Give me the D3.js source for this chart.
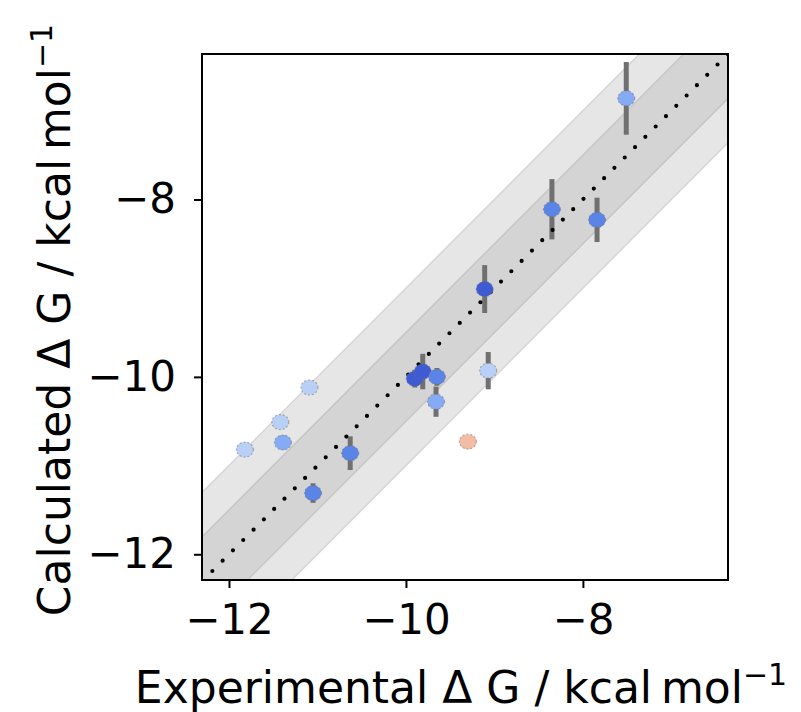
<!DOCTYPE html>
<meta charset="utf-8">
<style>
body { margin: 0; background: #fff; }
text { font-family: "DejaVu Sans", sans-serif; fill: #000; }
</style>
<body>
<script src="https://d3js.org/d3.v7.min.js"></script>
<script>
// experimental vs calculated binding free energies, kcal/mol
var expDG   = [-7.51, -8.35, -7.84, -9.11, -9.90, -9.81, -9.65, -9.66, -9.07, -9.30, -10.63, -11.05, -11.09, -11.42, -11.39, -11.82];
var calcDG  = [-6.86, -8.11, -8.23, -9.01, -10.02, -9.94, -10.00, -10.28, -9.93, -10.73, -10.86, -11.31, -10.12, -10.51, -10.74, -10.82];
var calcErr = [0.41, 0.34, 0.25, 0.27, 0.10, 0.20, 0.10, 0.17, 0.21, 0, 0.19, 0.11, 0, 0, 0.08, 0];
// colour group of each point (dark blue ... salmon)
var shade = [2, 1, 1, 0, 0, 0, 1, 2, 3, 4, 1, 1, 3, 3, 2, 3];
var shadeColors = ["#3f5bd3", "#5b84e8", "#86abf6", "#b9d0f6", "#f2bda4"];
var tickVals = [-12, -10, -8];
var bandWidths = [1, 0.5];   // +/- kcal/mol around y = x

var margin = {top: 54, left: 202},
    width = 526,
    height = 526;

var svg = d3.select("body").append("svg")
    .attr("width", 801)
    .attr("height", 712);

var g = svg.append("g")
    .attr("transform", "translate(" + margin.left + "," + margin.top + ")");

var x = d3.scaleLinear().domain([-12.305, -6.36]).range([0, width]);
var y = d3.scaleLinear().domain([-12.29, -6.36]).range([height, 0]);

g.append("clipPath").attr("id", "clip")
  .append("rect").attr("width", width).attr("height", height);

var plot = g.append("g").attr("clip-path", "url(#clip)");

// shaded bands
var span = [-13.5, -5.5];
var bandFill = ["#e6e6e6", "#d4d4d4"];
var bandEdge = ["#d6d6d6", "#c6c6c6"];
bandWidths.forEach(function(b, i) {
  var area = d3.area()
      .x(function(d) { return x(d); })
      .y0(function(d) { return y(d - b); })
      .y1(function(d) { return y(d + b); });
  plot.append("path")
      .datum(span)
      .attr("d", area)
      .attr("fill", bandFill[i])
      .attr("stroke", bandEdge[i])
      .attr("stroke-width", 1.5);
});

var pts = expDG.map(function(e, i) {
  return {x: e, y: calcDG[i], err: calcErr[i], c: shadeColors[shade[i]]};
});

// error bars
plot.selectAll(".err")
    .data(pts.filter(function(d) { return d.err > 0; }))
  .enter().append("line")
    .attr("x1", function(d) { return x(d.x); })
    .attr("x2", function(d) { return x(d.x); })
    .attr("y1", function(d) { return y(d.y - d.err); })
    .attr("y2", function(d) { return y(d.y + d.err); })
    .attr("stroke", "#707070")
    .attr("stroke-width", 5);

// y = x
plot.append("line")
    .attr("x1", x(-12.305)).attr("y1", y(-12.305))
    .attr("x2", x(-6.36)).attr("y2", y(-6.36))
    .attr("stroke", "#000")
    .attr("stroke-width", 4.2)
    .attr("stroke-linecap", "round")
    .attr("stroke-dasharray", "0,14.6");

// points
plot.selectAll(".pt")
    .data(pts)
  .enter().append("ellipse")
    .attr("cx", function(d) { return x(d.x); })
    .attr("cy", function(d) { return y(d.y); })
    .attr("rx", 8.5)
    .attr("ry", 7.5)
    .attr("fill", function(d) { return d.c; })
    .attr("stroke", "rgba(110,110,110,0.5)")
    .attr("stroke-width", 1.2)
    .attr("stroke-dasharray", "2,2");

// axes
var minus = function(d) { return String(d).replace("-", "\u2212"); };
var xAxis = g.append("g")
    .attr("transform", "translate(0," + height + ")")
    .call(d3.axisBottom(x).tickValues(tickVals).tickSize(8).tickPadding(16).tickFormat(minus));
var yAxis = g.append("g")
    .call(d3.axisLeft(y).tickValues(tickVals).tickSize(8).tickPadding(18).tickFormat(minus));

[xAxis, yAxis].forEach(function(a) {
  a.select(".domain").remove();
  a.selectAll(".tick line").attr("stroke", "#000").attr("stroke-width", 2);
  a.selectAll(".tick text")
      .attr("font-size", 42)
      .attr("font-family", "DejaVu Sans")
      .attr("fill", "#000");
});

// frame
g.append("rect")
    .attr("width", width)
    .attr("height", height)
    .attr("fill", "none")
    .attr("stroke", "#000")
    .attr("stroke-width", 2);

// axis labels
var xl = svg.append("text")
    .attr("x", margin.left + width / 2 - 4)
    .attr("y", 703)
    .attr("text-anchor", "middle")
    .attr("font-size", 44);
xl.append("tspan").text("Experimental \u0394 G / kcal\u2009mol");
xl.append("tspan").attr("dy", -18).attr("font-size", 30).text("\u22121");

var yl = svg.append("text")
    .attr("transform", "translate(70," + (margin.top + height / 2 + 3) + ") rotate(-90)")
    .attr("text-anchor", "middle")
    .attr("font-size", 44);
yl.append("tspan").text("Calculated \u0394 G / kcal\u2009mol");
yl.append("tspan").attr("dy", -18).attr("font-size", 30).text("\u22121");
</script>
</body>
